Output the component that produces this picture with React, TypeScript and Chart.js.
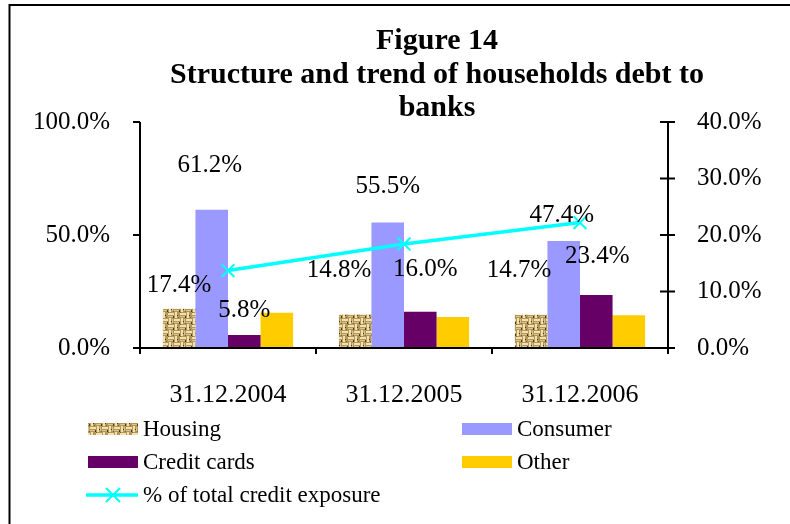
import React, { useEffect, useRef } from "react";
import { Chart, registerables } from "chart.js";

Chart.register(...registerables);

const categories = ["31.12.2004", "31.12.2005", "31.12.2006"];
const housing = [17.4, 14.8, 14.7];
const consumer = [61.2, 55.5, 47.4];
const creditCards = [5.8, 16.0, 23.4];
const other = [15.6, 13.7, 14.5];
const exposure = [13.7, 18.4, 22.2];
const leftTicks = [0, 50, 100];
const rightTicks = [0, 10, 20, 30, 40];
const titleLines = ["Figure 14", "Structure and trend of households debt to", "banks"];
const seriesNames = ["Housing", "Consumer", "Credit cards", "Other", "% of total credit exposure"];

// label placement relative to each bar's top-centre (px), for Housing, Consumer, Credit cards
const labelOffsets = [
  [[0, -23], [-16, -44], [-12, -44]],
  [[-2, -44], [0, -36], [-2, -25]],
  [[0, -24], [5, -42], [1, -39]],
];

const FONT = "'Liberation Serif', 'Times New Roman', serif";
const CONSUMER = "#9999FF";
const CREDIT = "#660066";
const OTHER = "#FFCC00";
const LINE = "#00FFFF";

function makeBurlap(ctx: CanvasRenderingContext2D): CanvasPattern | string {
  const c = document.createElement("canvas");
  c.width = 12;
  c.height = 12;
  const g = c.getContext("2d");
  if (!g) return "#B8A070";
  g.fillStyle = "#B49658";
  g.fillRect(0, 0, 12, 12);
  g.fillStyle = "#F0E2B0";
  g.fillRect(0, 1, 6, 2);
  g.fillRect(6, 7, 6, 2);
  g.fillRect(7, 0, 2, 6);
  g.fillRect(1, 6, 2, 6);
  g.fillStyle = "#D9C58E";
  g.fillRect(0, 4, 5, 1);
  g.fillRect(6, 10, 6, 1);
  g.fillRect(4, 7, 1, 4);
  g.fillStyle = "#4E3A1A";
  g.fillRect(5, 4, 1, 2);
  g.fillRect(11, 10, 1, 2);
  g.fillRect(3, 9, 1, 1);
  g.fillRect(9, 3, 1, 1);
  g.fillStyle = "#806438";
  g.fillRect(0, 0, 1, 1);
  g.fillRect(10, 5, 1, 1);
  g.fillRect(5, 11, 1, 1);
  return ctx.createPattern(c, "repeat") || "#B8A070";
}

export default function App() {
  const ref = useRef<HTMLCanvasElement | null>(null);

  useEffect(() => {
    document.body.style.margin = "0";
    const canvas = ref.current;
    if (!canvas) return;
    const ctx0 = canvas.getContext("2d")!;
    const burlap = makeBurlap(ctx0);

    const decor = {
      id: "decor",
      afterDatasetsDraw(chart: any) {
        const ctx: CanvasRenderingContext2D = chart.ctx;
        const { left, right, bottom } = chart.chartArea;
        const yL = chart.scales.y;
        const yR = chart.scales.y1;
        ctx.save();
        // data labels
        ctx.font = `25px ${FONT}`;
        ctx.fillStyle = "#000";
        ctx.textAlign = "center";
        ctx.textBaseline = "middle";
        for (let d = 0; d < 3; d++) {
          const meta = chart.getDatasetMeta(d);
          const vals = chart.data.datasets[d].data as number[];
          meta.data.forEach((bar: any, i: number) => {
            const [dx, dy] = labelOffsets[d][i];
            ctx.fillText(vals[i].toFixed(1) + "%", bar.x + dx, bar.y + dy);
          });
        }
        // axes
        ctx.strokeStyle = "#000";
        ctx.lineWidth = 2;
        ctx.beginPath();
        ctx.moveTo(left, yL.getPixelForValue(100));
        ctx.lineTo(left, bottom);
        ctx.moveTo(right, yR.getPixelForValue(40));
        ctx.lineTo(right, bottom);
        ctx.moveTo(left, bottom);
        ctx.lineTo(right, bottom);
        leftTicks.forEach((v) => {
          const y = yL.getPixelForValue(v);
          ctx.moveTo(left - 7, y);
          ctx.lineTo(left, y);
        });
        rightTicks.forEach((v) => {
          const y = yR.getPixelForValue(v);
          ctx.moveTo(right - 8, y);
          ctx.lineTo(right + 7, y);
        });
        const n = categories.length;
        for (let i = 0; i <= n; i++) {
          const x = left + ((right - left) * i) / n;
          ctx.moveTo(x, bottom);
          ctx.lineTo(x, bottom + 6);
        }
        ctx.stroke();
        ctx.restore();
      },
      afterDraw(chart: any) {
        const ctx: CanvasRenderingContext2D = chart.ctx;
        ctx.save();
        // frame (top & left edges)
        ctx.strokeStyle = "#000";
        ctx.lineWidth = 2;
        ctx.beginPath();
        ctx.moveTo(9.5, 524);
        ctx.lineTo(9.5, 5);
        ctx.lineTo(790, 5);
        ctx.stroke();
        // title
        ctx.fillStyle = "#000";
        ctx.font = `bold 30px ${FONT}`;
        ctx.textAlign = "center";
        ctx.textBaseline = "middle";
        const ty = [41, 75, 108];
        titleLines.forEach((t, i) => ctx.fillText(t, 437, ty[i]));
        // legend
        ctx.font = `23px ${FONT}`;
        ctx.textAlign = "left";
        const fills = [burlap, CONSUMER, CREDIT, OTHER];
        const pos = [
          [88, 429],
          [462, 429],
          [88, 462],
          [462, 462],
        ];
        for (let i = 0; i < 4; i++) {
          const [x, y] = pos[i];
          ctx.fillStyle = fills[i] as any;
          ctx.fillRect(x, y - 6, 50, 12);
          ctx.fillStyle = "#000";
          ctx.fillText(seriesNames[i], x + 55, y + 1);
        }
        const ly = 495;
        ctx.strokeStyle = LINE;
        ctx.lineWidth = 3.5;
        ctx.beginPath();
        ctx.moveTo(86, ly);
        ctx.lineTo(138, ly);
        ctx.stroke();
        ctx.lineWidth = 2;
        ctx.beginPath();
        ctx.moveTo(106, ly - 7);
        ctx.lineTo(120, ly + 7);
        ctx.moveTo(120, ly - 7);
        ctx.lineTo(106, ly + 7);
        ctx.stroke();
        ctx.fillStyle = "#000";
        ctx.fillText(seriesNames[4], 143, ly + 1);
        ctx.restore();
      },
    };

    const barCommon = { categoryPercentage: 0.74, barPercentage: 1, borderWidth: 0, order: 1, yAxisID: "y" };

    const chart = new Chart(canvas, {
      type: "bar",
      data: {
        labels: categories,
        datasets: [
          { label: seriesNames[0], data: housing, backgroundColor: burlap as any, ...barCommon },
          { label: seriesNames[1], data: consumer, backgroundColor: CONSUMER, ...barCommon },
          { label: seriesNames[2], data: creditCards, backgroundColor: CREDIT, ...barCommon },
          { label: seriesNames[3], data: other, backgroundColor: OTHER, ...barCommon },
          {
            type: "line",
            label: seriesNames[4],
            data: exposure,
            yAxisID: "y1",
            order: 0,
            borderColor: LINE,
            borderWidth: 3.5,
            pointStyle: "crossRot",
            pointRadius: 9,
            pointBorderWidth: 2,
            pointBorderColor: LINE,
            pointBackgroundColor: LINE,
            tension: 0,
          } as any,
        ],
      },
      options: {
        responsive: false,
        animation: false,
        layout: { padding: { top: 122, left: 0, right: 0, bottom: 0 } },
        plugins: { legend: { display: false }, tooltip: { enabled: false }, title: { display: false } },
        scales: {
          x: {
            grid: { display: false },
            border: { display: false },
            ticks: { color: "#000", font: { family: FONT, size: 26 }, padding: 24 },
            afterFit: (s: any) => {
              s.height = 176;
            },
          },
          y: {
            position: "left",
            min: 0,
            max: 100,
            grid: { display: false },
            border: { display: false },
            afterBuildTicks: (s: any) => {
              s.ticks = leftTicks.map((v) => ({ value: v }));
            },
            ticks: {
              color: "#000",
              font: { family: FONT, size: 25 },
              padding: 22,
              callback: (v: any) => Number(v).toFixed(1) + "%",
            },
            afterFit: (s: any) => {
              s.width = 140;
            },
          },
          y1: {
            position: "right",
            min: 0,
            max: 40,
            grid: { display: false },
            border: { display: false },
            afterBuildTicks: (s: any) => {
              s.ticks = rightTicks.map((v) => ({ value: v }));
            },
            ticks: {
              color: "#000",
              font: { family: FONT, size: 25 },
              padding: 21,
              callback: (v: any) => Number(v).toFixed(1) + "%",
            },
            afterFit: (s: any) => {
              s.width = 122;
            },
          },
        },
      },
      plugins: [decor],
    });
    return () => chart.destroy();
  }, []);

  return (
    <div style={{ width: 790, height: 524, background: "#fff" }}>
      <canvas ref={ref} width={790} height={524} style={{ width: 790, height: 524, display: "block" }} />
    </div>
  );
}
